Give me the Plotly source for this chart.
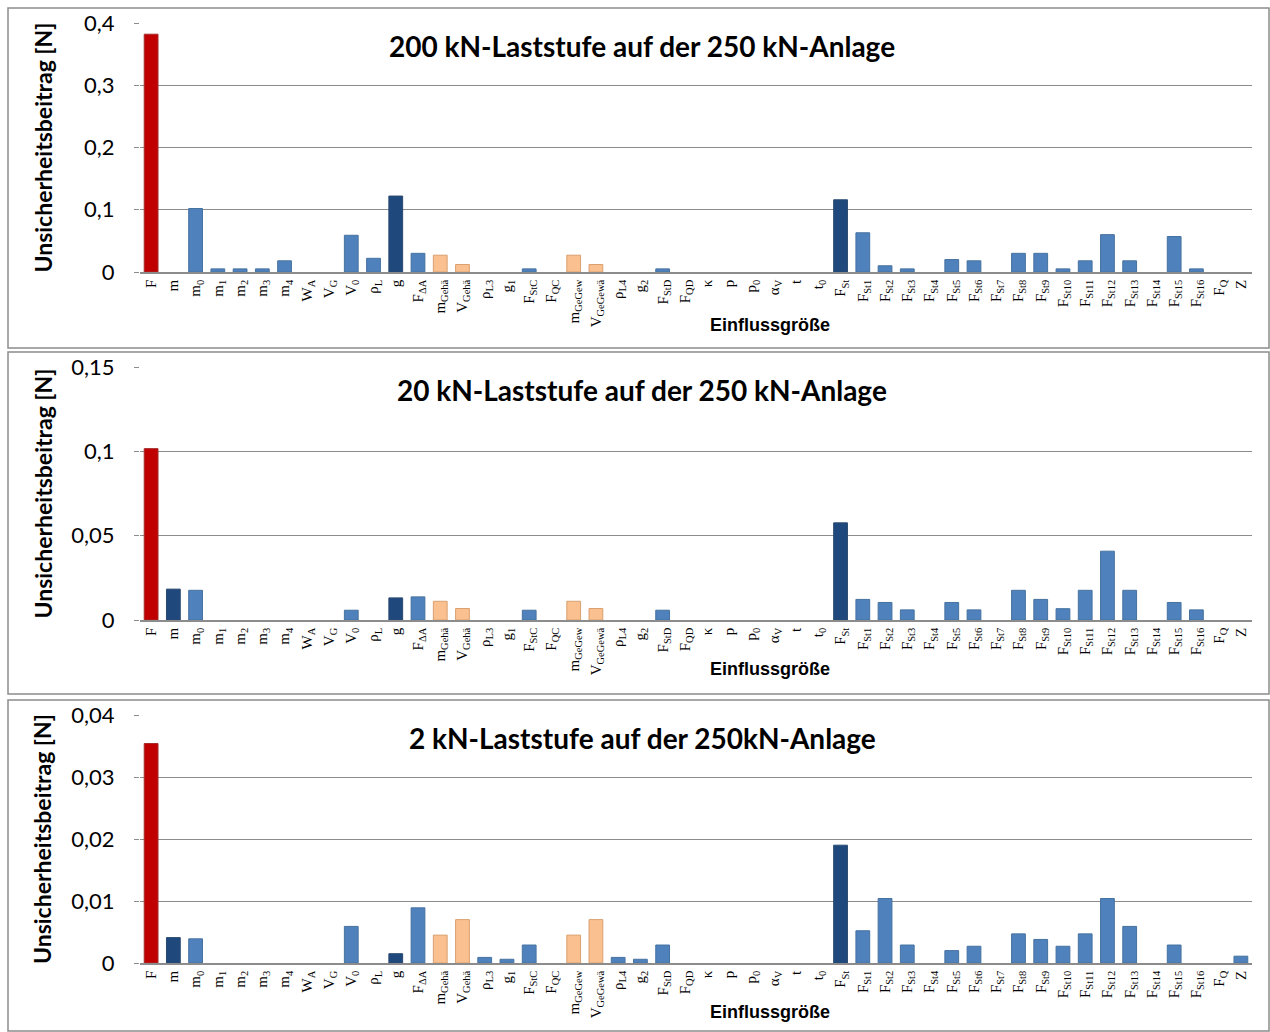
import plotly.graph_objects as go

categories = [
    "F", "m", "m<sub>0</sub>", "m<sub>1</sub>", "m<sub>2</sub>", "m<sub>3</sub>", "m<sub>4</sub>",
    "W<sub>A</sub>", "V<sub>G</sub>", "V<sub>0</sub>", "ρ<sub>L</sub>", "g", "F<sub>ΔA</sub>",
    "m<sub>Gehä</sub>", "V<sub>Gehä</sub>", "ρ<sub>L3</sub>", "g<sub>1</sub>", "F<sub>StC</sub>",
    "F<sub>QC</sub>", "m<sub>GeGew</sub>", "V<sub>GeGewä</sub>", "ρ<sub>L4</sub>", "g<sub>2</sub>",
    "F<sub>StD</sub>", "F<sub>QD</sub>", "κ", "p", "p<sub>0</sub>", "α<sub>V</sub>", "t", "t<sub>0</sub>",
    "F<sub>St</sub>", "F<sub>St1</sub>", "F<sub>St2</sub>", "F<sub>St3</sub>", "F<sub>St4</sub>",
    "F<sub>St5</sub>", "F<sub>St6</sub>", "F<sub>St7</sub>", "F<sub>St8</sub>", "F<sub>St9</sub>",
    "F<sub>St10</sub>", "F<sub>St11</sub>", "F<sub>St12</sub>", "F<sub>St13</sub>", "F<sub>St14</sub>",
    "F<sub>St15</sub>", "F<sub>St16</sub>", "F<sub>Q</sub>", "Z",
]

# group of each influence quantity (used for bar colouring)
groups = [
    "result", "main", "other", "other", "other", "other", "other",
    "other", "other", "other", "other", "main", "other",
    "housing", "housing", "other", "other", "other",
    "other", "housing", "housing", "other", "other",
    "other", "other", "other", "other", "other", "other", "other", "other",
    "main", "other", "other", "other", "other",
    "other", "other", "other", "other", "other",
    "other", "other", "other", "other", "other",
    "other", "other", "other", "other",
]

values_200kN = [
    0.382, 0, 0.102, 0.005, 0.005, 0.005, 0.018,
    0, 0, 0.059, 0.022, 0.122, 0.030,
    0.027, 0.012, 0, 0, 0.005,
    0, 0.027, 0.012, 0, 0,
    0.005, 0, 0, 0, 0, 0, 0, 0,
    0.116, 0.063, 0.010, 0.005, 0,
    0.020, 0.018, 0, 0.030, 0.030,
    0.005, 0.018, 0.060, 0.018, 0,
    0.057, 0.005, 0, 0,
]

values_20kN = [
    0.1016, 0.0183, 0.0176, 0, 0, 0, 0,
    0, 0, 0.0058, 0, 0.0131, 0.0137,
    0.0111, 0.0068, 0, 0, 0.0058,
    0, 0.0111, 0.0068, 0, 0,
    0.0058, 0, 0, 0, 0, 0, 0, 0,
    0.0576, 0.0122, 0.0104, 0.0060, 0,
    0.0104, 0.0060, 0, 0.0176, 0.0122,
    0.0067, 0.0176, 0.0408, 0.0176, 0,
    0.0104, 0.0060, 0, 0,
]

values_2kN = [
    0.0354, 0.0041, 0.0039, 0, 0, 0, 0,
    0, 0, 0.0059, 0, 0.0015, 0.0089,
    0.0045, 0.0070, 0.0009, 0.0006, 0.0029,
    0, 0.0045, 0.0070, 0.0009, 0.0006,
    0.0029, 0, 0, 0, 0, 0, 0, 0,
    0.0190, 0.0052, 0.0104, 0.0029, 0,
    0.0020, 0.0027, 0, 0.0047, 0.0038,
    0.0027, 0.0047, 0.0104, 0.0059, 0,
    0.0029, 0, 0, 0.0011,
]

titles = [
    "200 kN-Laststufe auf der 250 kN-Anlage",
    "20 kN-Laststufe auf der 250 kN-Anlage",
    "2 kN-Laststufe auf der 250kN-Anlage",
]
y_ticks = [
    [0, 0.1, 0.2, 0.3, 0.4],
    [0, 0.05, 0.1, 0.15],
    [0, 0.01, 0.02, 0.03, 0.04],
]
y_ticktext = [
    ["0", "0,1", "0,2", "0,3", "0,4"],
    ["0", "0,05", "0,1", "0,15"],
    ["0", "0,01", "0,02", "0,03", "0,04"],
]
y_title = "Unsicherheitsbeitrag [N]"
x_title = "Einflussgröße"

# ---------------- styling ----------------
W, H = 1270, 1032
fill = {"result": "#C00000", "main": "#1F497D", "housing": "#FAC090", "other": "#4F81BD"}
edge = {"result": "#A52A2A", "main": "#2A4A70", "housing": "#D9A070", "other": "#46729F"}
SANS = "Lato, Carlito, sans-serif"

# panel pixel geometry: (plot top, plot bottom, title y, x-title y, frame top, frame bottom)
panels = [
    (23, 272, 46, 325, 8, 348),
    (367, 620, 390, 669, 352, 694),
    (715, 963, 738, 1012, 700, 1031),
]
x_left, x_right = 140, 1252


def py(pix):
    return 1 - pix / H


fig = go.Figure()
all_values = [values_200kN, values_20kN, values_2kN]
idx = list(range(len(categories)))
layout_updates = {}
annotations = []
shapes = []
for k, vals in enumerate(all_values):
    n = "" if k == 0 else str(k + 1)
    fig.add_trace(go.Bar(
        x=idx, y=vals,
        xaxis="x" + n, yaxis="y" + n,
        width=0.62,
        marker=dict(color=[fill[g] for g in groups],
                    line=dict(color=[edge[g] for g in groups],
                              width=[1 if v > 0 else 0 for v in vals])),
        showlegend=False, hoverinfo="skip",
    ))
    top, bot, ty, xty, ft, fb = panels[k]
    layout_updates["xaxis" + n] = dict(
        domain=[x_left / W, x_right / W], anchor="y" + n,
        range=[-0.5, len(categories) - 0.5],
        tickvals=idx, ticktext=categories, tickangle=-90,
        tickfont=dict(family="Liberation Serif", size=15, color="#000"),
        showline=True, linecolor="#8c8c8c", linewidth=1.5,
        showgrid=False, zeroline=False, ticks="", automargin=False,
    )
    layout_updates["yaxis" + n] = dict(
        domain=[py(bot), py(top)], anchor="x" + n,
        range=[0, y_ticks[k][-1]],
        tickvals=y_ticks[k], ticktext=y_ticktext[k],
        tickfont=dict(family=SANS, size=22, color="#000"),
        showgrid=True, gridcolor="#8c8c8c", gridwidth=1.3,
        zeroline=False, showline=False, automargin=False,
        ticks="outside", ticklen=5, tickcolor="#8c8c8c", ticklabelstandoff=15,
    )
    annotations.append(dict(
        text="<b>" + titles[k] + "</b>", x=642 / W, y=py(ty), xref="paper", yref="paper",
        xanchor="center", yanchor="middle", showarrow=False,
        font=dict(family=SANS, size=28, color="#000"),
    ))
    annotations.append(dict(
        text="<b>" + x_title + "</b>", x=770 / W, y=py(xty), xref="paper", yref="paper",
        xanchor="center", yanchor="middle", showarrow=False,
        font=dict(family="Liberation Sans, Arial, sans-serif", size=18, color="#000"),
    ))
    annotations.append(dict(
        text="<b>" + y_title + "</b>", x=42 / W, y=py((top + bot) / 2), xref="paper",
        yref="paper", xanchor="center", yanchor="middle", textangle=-90, showarrow=False,
        font=dict(family=SANS, size=23, color="#000"),
    ))
    shapes.append(dict(
        type="rect", xref="paper", yref="paper",
        x0=8 / W, x1=1269 / W, y0=py(fb), y1=py(ft),
        line=dict(color="#8c8c8c", width=1.5), fillcolor="rgba(0,0,0,0)",
    ))

fig.update_layout(
    width=W, height=H,
    margin=dict(l=0, r=0, t=0, b=0, pad=0),
    paper_bgcolor="white", plot_bgcolor="white",
    annotations=annotations, shapes=shapes,
    hovermode=False,
    **layout_updates,
)

fig.write_html(
    "out.html",
    config={"displayModeBar": False},
    post_script=(
        "document.body.style.margin='0';"
        "var d=document.getElementById('{plot_id}');"
        "d.style.position='fixed';d.style.top='0px';d.style.left='0px';"
    ),
)
